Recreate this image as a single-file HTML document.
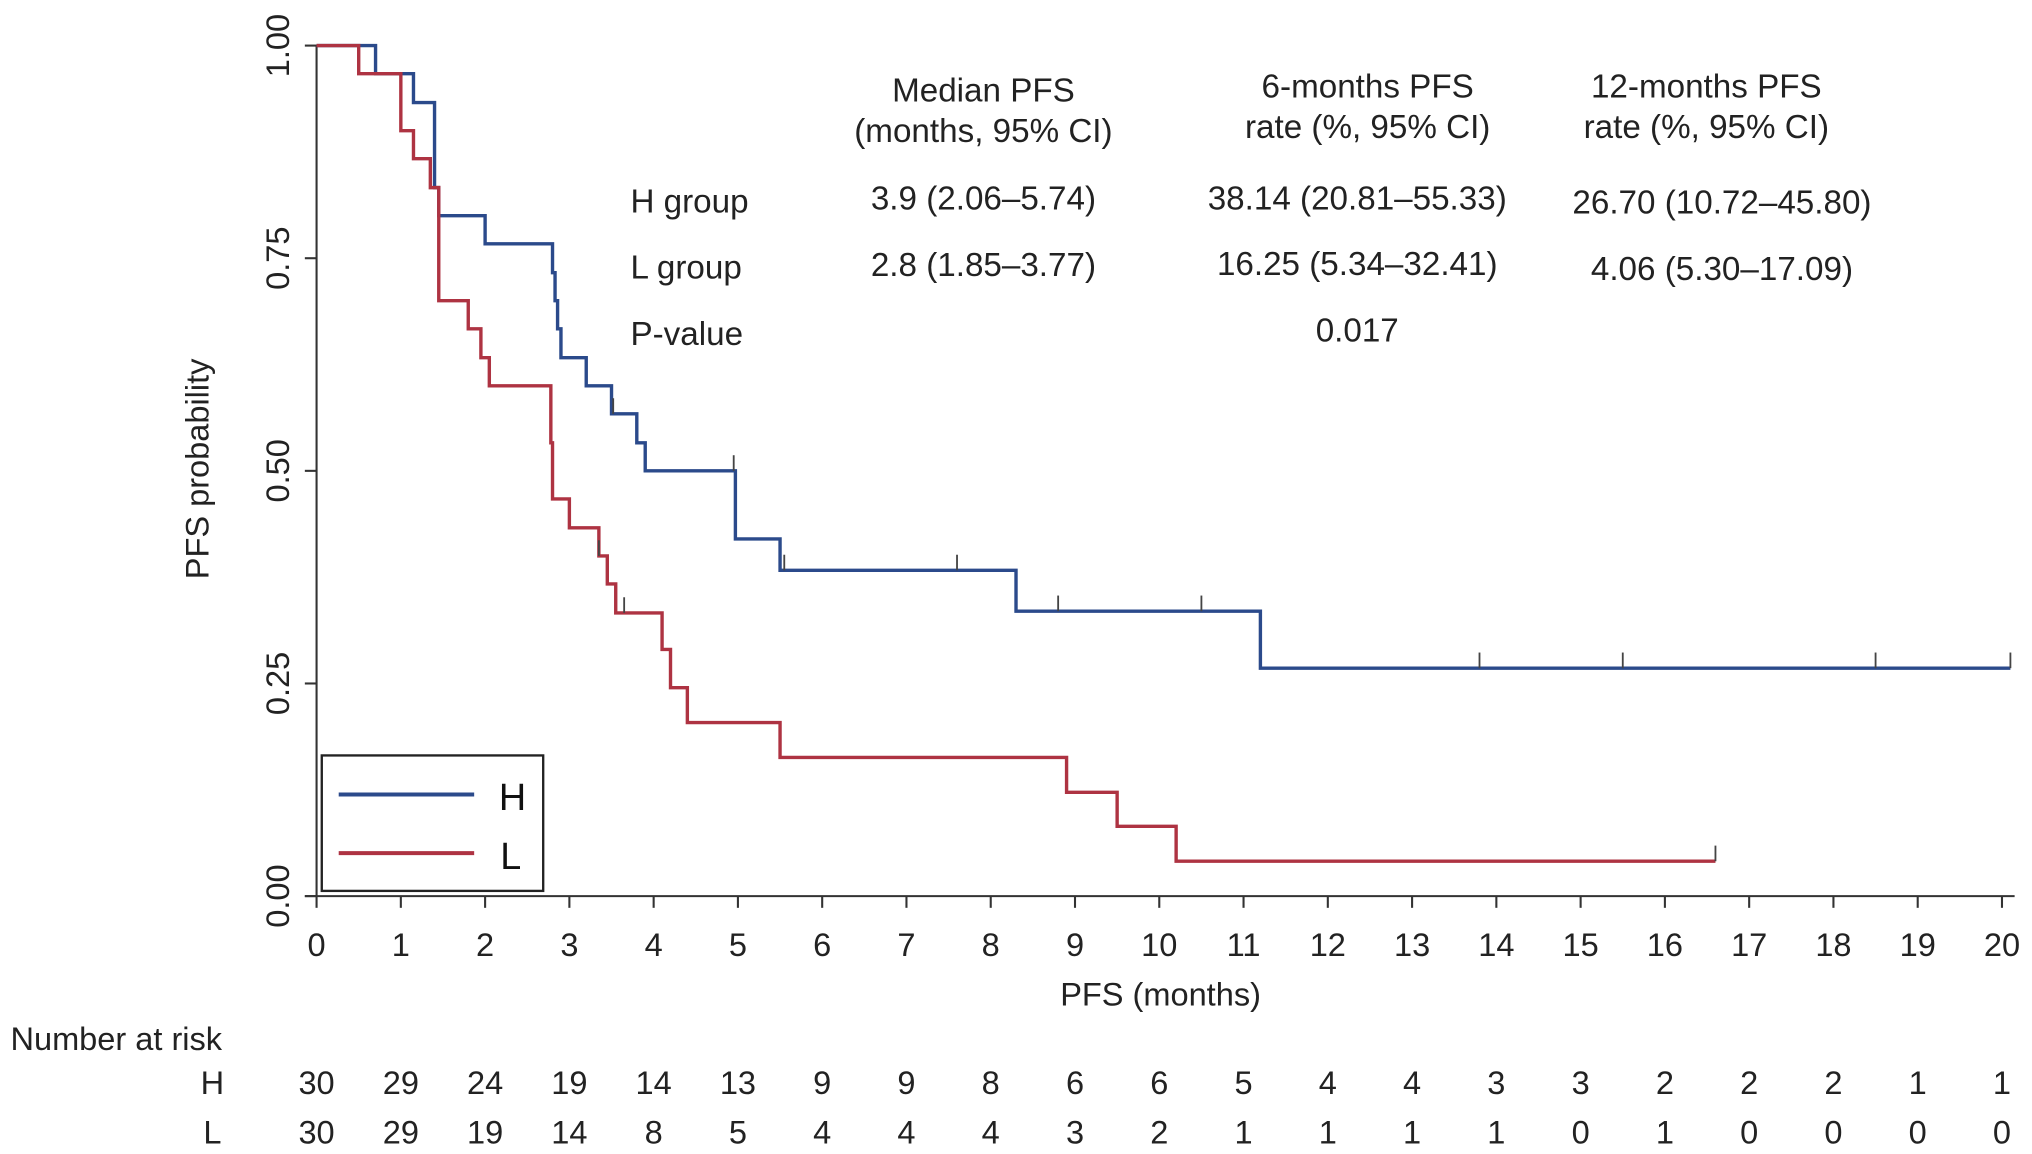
<!DOCTYPE html>
<html><head><meta charset="utf-8"><style>
html,body{margin:0;padding:0;background:#fff;}
svg{display:block;font-family:"Liberation Sans",Arial,sans-serif;}
</style></head><body>
<svg id="chart" width="2032" height="1154" viewBox="0 0 1560 886">
<g id="axes"></g>
<g id="curves"></g>
<g font-size="25.5" fill="#222">
<text x="755" y="78" text-anchor="middle">Median PFS</text>
<text x="755" y="109" text-anchor="middle">(months, 95% CI)</text>
<text x="1050" y="75" text-anchor="middle">6-months PFS</text>
<text x="1050" y="106" text-anchor="middle">rate (%, 95% CI)</text>
<text x="1310" y="75" text-anchor="middle">12-months PFS</text>
<text x="1310" y="106" text-anchor="middle">rate (%, 95% CI)</text>
<text x="484" y="163">H group</text>
<text x="755" y="161" text-anchor="middle">3.9 (2.06–5.74)</text>
<text x="1042" y="161" text-anchor="middle">38.14 (20.81–55.33)</text>
<text x="1322" y="164" text-anchor="middle">26.70 (10.72–45.80)</text>
<text x="484" y="214">L group</text>
<text x="755" y="212" text-anchor="middle">2.8 (1.85–3.77)</text>
<text x="1042" y="211" text-anchor="middle">16.25 (5.34–32.41)</text>
<text x="1322" y="215" text-anchor="middle">4.06 (5.30–17.09)</text>
<text x="484" y="265">P-value</text>
<text x="1042" y="262" text-anchor="middle">0.017</text>
</g>
<g>
<rect x="247" y="580" width="170" height="104" fill="#fff" stroke="#222" stroke-width="1.8"/>
<line x1="260" y1="610" x2="364" y2="610" stroke="#2b4a8b" stroke-width="3"/>
<text x="383" y="622" font-size="29" fill="#111">H</text>
<line x1="260" y1="655" x2="364" y2="655" stroke="#ae3342" stroke-width="3"/>
<text x="384" y="667" font-size="29" fill="#111">L</text>
</g>
<text x="891" y="772" text-anchor="middle" font-size="25" fill="#222">PFS (months)</text>
<text transform="translate(160,360) rotate(-90)" text-anchor="middle" font-size="25" fill="#222">PFS probability</text>
<text x="8" y="806" font-size="25" fill="#222">Number at risk</text>
<text x="163" y="840" text-anchor="middle" font-size="25" fill="#222">H</text>
<text x="163" y="878" text-anchor="middle" font-size="25" fill="#222">L</text>
<g id="risk"></g>
</svg>
<script>
const xTicks=[0,1,2,3,4,5,6,7,8,9,10,11,12,13,14,15,16,17,18,19,20];
const yTicks=[0,0.25,0.5,0.75,1];
const yTickLabels=["0.00","0.25","0.50","0.75","1.00"];
const hTimes=[0,0.7,1.15,1.4,1.45,2.0,2.8,2.83,2.86,2.9,3.2,3.5,3.8,3.9,4.97,5.5,8.3,11.2,20.1];
const hSurv=[1,0.967,0.933,0.833,0.8,0.767,0.733,0.7,0.667,0.633,0.6,0.567,0.533,0.5,0.42,0.383,0.335,0.268,0.268];
const hCensor=[3.52,4.95,5.55,7.6,8.8,10.5,13.8,15.5,18.5,20.1];
const lTimes=[0,0.5,1.0,1.15,1.35,1.45,1.8,1.95,2.05,2.78,2.8,3.0,3.35,3.45,3.55,4.1,4.2,4.4,5.5,8.9,9.5,10.2,16.6];
const lSurv=[1,0.967,0.9,0.867,0.833,0.7,0.667,0.633,0.6,0.533,0.467,0.433,0.4,0.367,0.333,0.29,0.245,0.204,0.163,0.122,0.082,0.041,0.041];
const lCensor=[3.35,3.65,16.6];
const riskH=[30,29,24,19,14,13,9,9,8,6,6,5,4,4,3,3,2,2,2,1,1];
const riskL=[30,29,19,14,8,5,4,4,4,3,2,1,1,1,1,0,1,0,0,0,0];
const NS="http://www.w3.org/2000/svg";
const X=t=>243+t*64.7;
const Y=p=>688-p*653;
function mk(tag,attrs,parent){const e=document.createElementNS(NS,tag);for(const k in attrs)e.setAttribute(k,attrs[k]);parent.appendChild(e);return e;}
const axes=document.getElementById('axes'),curves=document.getElementById('curves'),risk=document.getElementById('risk');
let a=mk('line',{x1:X(0),y1:Y(0),x2:X(0),y2:Y(1),stroke:'#333','stroke-width':1.6},axes);


a=mk('line',{x1:X(0)-9,y1:Y(0),x2:X(20.15),y2:Y(0),stroke:'#333','stroke-width':1.6},axes);


yTicks.forEach((v,i)=>{
 const t=mk('line',{x1:X(0)-9,y1:Y(v),x2:X(0),y2:Y(v),stroke:'#333','stroke-width':1.6},axes);
 
 
 const l=mk('text',{transform:`translate(222,${Y(v)}) rotate(-90)`,'text-anchor':'middle','font-size':25,fill:'#222'},axes);
 l.textContent=yTickLabels[i];
 
 
});
xTicks.forEach(v=>{
 const t=mk('line',{x1:X(v),y1:Y(0),x2:X(v),y2:Y(0)+9,stroke:'#333','stroke-width':1.6},axes);
 
 
 const l=mk('text',{x:X(v),y:734,'text-anchor':'middle','font-size':25,fill:'#222'},axes);
 l.textContent=v;
 
 
});
function stepPath(ts,ss){let d=`M${X(ts[0])},${Y(ss[0])}`;for(let i=1;i<ts.length;i++){d+=`H${X(ts[i])}V${Y(ss[i])}`;}return d;}
function survAt(ts,ss,t){let s=ss[0];for(let i=0;i<ts.length;i++){if(ts[i]<=t)s=ss[i];}return s;}
function drawCurve(ts,ss,cs,col,name){
 const p=mk('path',{d:stepPath(ts,ss),fill:'none',stroke:col,'stroke-width':2.6},curves);
 
 
 cs.forEach(c=>{const s=survAt(ts,ss,c);
  const m=mk('line',{x1:X(c),y1:Y(s),x2:X(c),y2:Y(s)-12,stroke:'#444','stroke-width':1.4},curves);
  
  
 });
}
drawCurve(hTimes,hSurv,hCensor,'#2b4a8b','h');
drawCurve(lTimes,lSurv,lCensor,'#ae3342','l');
xTicks.forEach((v,i)=>{
 const h=mk('text',{x:X(v),y:840,'text-anchor':'middle','font-size':25,fill:'#222'},risk);
 h.textContent=riskH[i];
 
 
 const l=mk('text',{x:X(v),y:878,'text-anchor':'middle','font-size':25,fill:'#222'},risk);
 l.textContent=riskL[i];
 
 
});
</script>
</body></html>
